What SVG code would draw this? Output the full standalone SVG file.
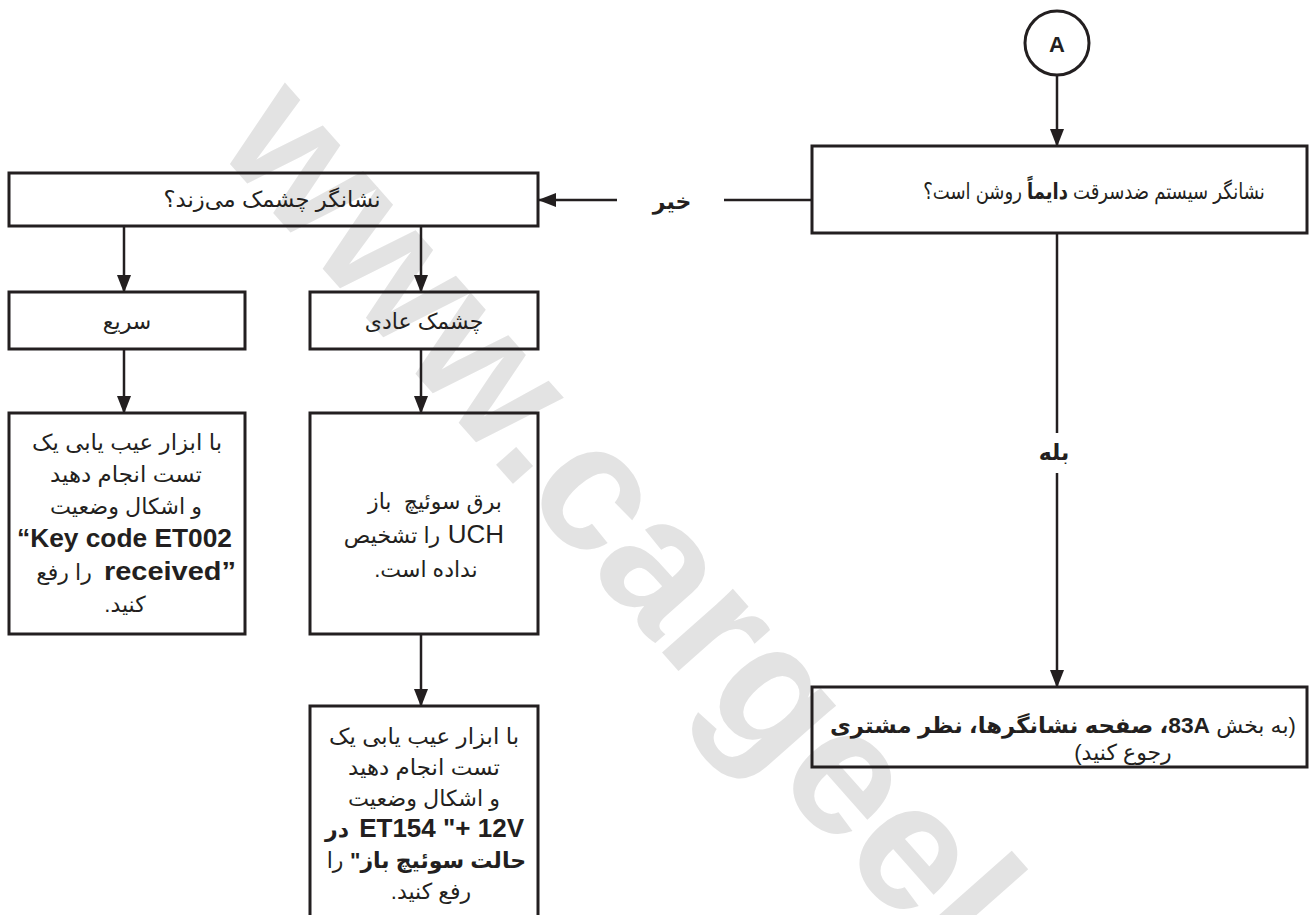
<svg xmlns="http://www.w3.org/2000/svg" width="1309" height="915" viewBox="0 0 1309 915">
<style>
.box{fill:none;stroke:#231f20;stroke-width:3}
.conn{fill:none;stroke:#231f20;stroke-width:2.5}
.t{font-family:"Liberation Sans","DejaVu Sans",sans-serif;font-size:22px;fill:#231f20;text-anchor:middle}
.rtl{direction:rtl;unicode-bidi:embed}
.lat{font-family:"Liberation Sans",Arial,sans-serif;font-size:26px;fill:#231f20}
.b{font-weight:bold}
.wm{font-family:"Liberation Sans",Arial,sans-serif;font-weight:bold;font-size:180px;fill:#e3e3e3}
</style>
<defs>
<marker id="arr" markerUnits="userSpaceOnUse" markerWidth="18" markerHeight="14" viewBox="0 0 18 14" refX="17" refY="7" orient="auto">
<path d="M0,0 L18,7 L0,14 z" fill="#231f20"/>
</marker>
</defs>
<rect width="1309" height="915" fill="#ffffff"/>
<g id="watermark">
<text class="wm" transform="translate(214,146) rotate(48.5)">www.cargeek.ir</text>
</g>
<g id="connectors">
<line class="conn" x1="1057" y1="75" x2="1057" y2="146" marker-end="url(#arr)"/>
<line class="conn" x1="812" y1="200" x2="724" y2="200"/>
<line class="conn" x1="617" y1="200" x2="539" y2="200" marker-end="url(#arr)"/>
<text class="t rtl b" x="672" y="209" font-size="25">خیر</text>
<line class="conn" x1="1057" y1="233" x2="1057" y2="433"/>
<text class="t rtl b" x="1054" y="460" font-size="24">بله</text>
<line class="conn" x1="1057" y1="473" x2="1057" y2="687" marker-end="url(#arr)"/>
<line class="conn" x1="124" y1="226" x2="124" y2="292" marker-end="url(#arr)"/>
<line class="conn" x1="421" y1="226" x2="421" y2="292" marker-end="url(#arr)"/>
<line class="conn" x1="124" y1="350" x2="124" y2="413" marker-end="url(#arr)"/>
<line class="conn" x1="421" y1="350" x2="421" y2="413" marker-end="url(#arr)"/>
<line class="conn" x1="421" y1="634" x2="421" y2="706" marker-end="url(#arr)"/>
</g>
<g id="nodeA">
<circle cx="1057" cy="43" r="32" fill="none" stroke="#231f20" stroke-width="3"/>
<text class="t b" x="1057" y="52" font-size="26">A</text>
</g>
<g id="q1">
<rect class="box" x="812" y="146" width="495" height="87"/>
<text class="t rtl" transform="translate(1094,199) scale(0.82,1)" x="0" y="0" font-size="23">نشانگر سیستم ضدسرقت <tspan class="b">دایماً</tspan> روشن است؟</text>
</g>
<g id="q2">
<rect class="box" x="9" y="173" width="529" height="53"/>
<text class="t rtl" x="272" y="207" textLength="217" lengthAdjust="spacingAndGlyphs">نشانگر چشمک می‌زند؟</text>
</g>
<g id="fast">
<rect class="box" x="9" y="292" width="236" height="57"/>
<text class="t rtl" x="127" y="329">سریع</text>
</g>
<g id="normal">
<rect class="box" x="310" y="292" width="228" height="57"/>
<text class="t rtl" x="424" y="329">چشمک عادی</text>
</g>
<g id="fastAction">
<rect class="box" x="9" y="413" width="236" height="221"/>
<text class="t rtl" x="127" y="450" textLength="190" lengthAdjust="spacingAndGlyphs">با ابزار عیب یابی یک</text>
<text class="t rtl" x="126" y="482" textLength="152" lengthAdjust="spacingAndGlyphs">تست انجام دهید</text>
<text class="t rtl" x="126" y="514" textLength="152" lengthAdjust="spacingAndGlyphs">و اشکال وضعیت</text>
<text class="lat b" x="17" y="547" textLength="215" lengthAdjust="spacingAndGlyphs">“Key code ET002</text>
<text class="lat b" x="104" y="580" textLength="132" lengthAdjust="spacingAndGlyphs">received”</text>
<text class="t rtl" x="64" y="580">را رفع</text>
<text class="t rtl" x="125" y="612">کنید.</text>
</g>
<g id="normalCause">
<rect class="box" x="310" y="413" width="228" height="221"/>
<text class="t rtl" x="435" y="509" xml:space="preserve">برق سوئیچ  باز</text>
<text class="lat" x="504" y="543" text-anchor="end">UCH</text>
<text class="t rtl" x="392" y="543">را تشخیص</text>
<text class="t rtl" x="426" y="577">نداده است.</text>
</g>
<g id="normalAction">
<rect class="box" x="310" y="706" width="228" height="230"/>
<text class="t rtl" x="424" y="744" textLength="190" lengthAdjust="spacingAndGlyphs">با ابزار عیب یابی یک</text>
<text class="t rtl" x="424" y="775" textLength="152" lengthAdjust="spacingAndGlyphs">تست انجام دهید</text>
<text class="t rtl" x="424" y="806" textLength="152" lengthAdjust="spacingAndGlyphs">و اشکال وضعیت</text>
<text class="lat b" x="524" y="837" text-anchor="end">ET154 "+ 12V</text>
<text class="t rtl b" x="337" y="837">در</text>
<text class="t rtl b" x="438" y="868">حالت سوئیچ باز"</text>
<text class="t rtl" x="335" y="868">را</text>
<text class="t rtl" x="431" y="899">رفع کنید.</text>
</g>
<g id="refer">
<rect class="box" x="812" y="687" width="495" height="80"/>
<text class="t rtl" x="1256" y="733">(به بخش</text>
<text class="t rtl b" x="1020" y="733" textLength="380" lengthAdjust="spacingAndGlyphs">83A، صفحه نشانگرها، نظر مشتری</text>
<text class="t rtl" x="1123" y="760">رجوع کنید)</text>
</g>
</svg>
